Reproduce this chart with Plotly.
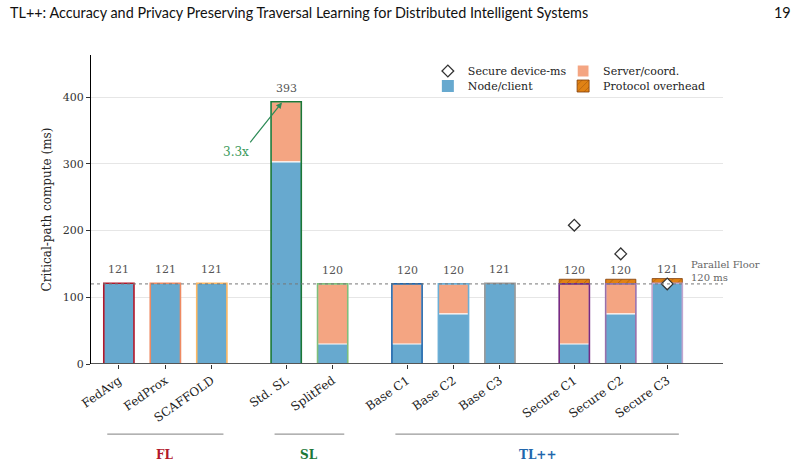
import plotly.graph_objects as go

categories = ["FedAvg", "FedProx", "SCAFFOLD", "Std. SL", "SplitFed",
              "Base C1", "Base C2", "Base C3", "Secure C1", "Secure C2", "Secure C3"]
positions = [0, 1, 2, 3.6, 4.6, 6.2, 7.2, 8.2, 9.8, 10.8, 11.8]
node_ms = [121, 121, 121, 303, 30, 30, 75, 121, 30, 75, 121]
server_ms = [0, 0, 0, 90, 90, 90, 45, 0, 90, 45, 0]
overhead_ms = [0, 0, 0, 0, 0, 0, 0, 0, 7, 7, 7]
total_labels = [121, 121, 121, 393, 120, 120, 120, 121, 120, 120, 121]
secure_idx = [8, 9, 10]
secure_device_ms = [208, 165, 120]
edge_colors = ["#b2182b", "#ef8a62", "#fdb863", "#1b7837", "#7fbf7b",
               "#2166ac", "#6baed6", "#999999", "#762a83", "#9970ab", "#c2a5cf"]
groups = [("FL", [0, 1, 2], "#b2182b"), ("SL", [3, 4], "#1b7837"),
          ("TL++", [5, 6, 7, 8, 9, 10], "#2166ac")]
parallel_floor = 120

FONT = "DejaVu Serif"
W = 0.65
NODE_C = "#67a9cf"
SERVER_C = "#f4a582"
OVER_C = "#e08214"

fig = go.Figure()

base_sum = [n + s for n, s in zip(node_ms, server_ms)]

fig.add_trace(go.Bar(x=positions, y=node_ms, base=[0] * len(node_ms), width=W,
                     marker=dict(color=NODE_C, line=dict(width=0)),
                     name="Node/client", legend="legend2"))
fig.add_trace(go.Bar(x=positions, y=[s if s > 0 else None for s in server_ms], base=node_ms, width=W,
                     marker=dict(color=SERVER_C, line=dict(color="white", width=1.2)),
                     name="Server/coord.", legend="legend3"))
fig.add_trace(go.Bar(x=positions, y=[o if o > 0 else None for o in overhead_ms], base=base_sum, width=W,
                     marker=dict(color=OVER_C, line=dict(color="#7f3b08", width=0.8),
                                 pattern=dict(shape="/", fgcolor="#7f3b08", bgcolor=OVER_C,
                                              size=6, solidity=0.15)),
                     name="Protocol overhead", legend="legend4"))
fig.add_trace(go.Bar(x=positions, y=base_sum, base=[0] * len(base_sum), width=W,
                     marker=dict(color="rgba(0,0,0,0)", line=dict(color=edge_colors, width=1.6)),
                     showlegend=False, hoverinfo="skip"))

# secure device-ms markers
fig.add_trace(go.Scatter(x=[positions[i] for i in secure_idx], y=secure_device_ms, mode="markers",
                         marker=dict(symbol="diamond", size=9, color="white",
                                     line=dict(color="#333333", width=1.3)),
                         cliponaxis=False,
                         name="Secure device-ms", legend="legend"))

# value labels
for p, b, v in zip(positions, base_sum, total_labels):
    fig.add_annotation(x=p, y=b, text=str(v), showarrow=False, yanchor="bottom", yshift=5,
                       font=dict(family=FONT, size=11, color="#555555"))

# parallel floor
fig.add_shape(type="line", xref="paper", x0=0, x1=1, yref="y", y0=parallel_floor, y1=parallel_floor,
              line=dict(color="#777777", width=1, dash="dot"), layer="above")
fig.add_annotation(x=positions[-1] + 0.47, y=parallel_floor, xanchor="left", yanchor="bottom",
                   text="Parallel Floor<br>120 ms", showarrow=False, align="left",
                   font=dict(family=FONT, size=10, color="#666666"), yshift=-1)

# 3.3x annotation
ratio = total_labels[3] / parallel_floor
fig.add_annotation(x=positions[3] - 0.09, y=total_labels[3] - 1, ax=positions[3] - 0.8, ay=330,
                   xref="x", yref="y", axref="x", ayref="y",
                   text="", showarrow=True, arrowhead=2, arrowsize=1, arrowwidth=1.2,
                   arrowcolor="#2e8b57")
fig.add_annotation(x=positions[3] - 1.08, y=319, xanchor="center", yanchor="middle",
                   text=f"{ratio:.1f}x", showarrow=False, yshift=-1, xshift=0,
                   font=dict(family=FONT, size=12, color="#3a9a5a"))

# group brackets
for label, idx, col in groups:
    x0 = positions[idx[0]] - 0.25
    x1 = positions[idx[-1]] + 0.25
    fig.add_shape(type="line", xref="x", yref="paper", x0=x0, x1=x1, y0=-0.227, y1=-0.227,
                  line=dict(color="#999999", width=1.2))
    fig.add_annotation(x=(positions[idx[0]] + positions[idx[-1]]) / 2, y=-0.294, xref="x", yref="paper",
                       text=f"<b>{label}</b>", showarrow=False, yanchor="middle",
                       font=dict(family=FONT, size=12, color=col))

# header
fig.add_annotation(x=-0.131, y=1.136, xref="paper", yref="paper", xanchor="left", yanchor="middle",
                   text="TL++: Accuracy and Privacy Preserving Traversal Learning for Distributed Intelligent Systems",
                   showarrow=False, font=dict(family="Lato", size=14.4, color="#111111"))
fig.add_annotation(x=1.11, y=1.136, xref="paper", yref="paper", xanchor="right", yanchor="middle",
                   text="19", showarrow=False, font=dict(family="Lato", size=14.4, color="#111111"))

leg_common = dict(xanchor="left", yanchor="middle", bgcolor="rgba(0,0,0,0)",
                  font=dict(family=FONT, size=11, color="#222222"), itemwidth=30)
row1 = (364 - 71) / 309
row2 = (364 - 86) / 309
colA = 0.533
colB = 0.747

fig.update_layout(
    width=801, height=467,
    margin=dict(l=91, r=78, t=55, b=103),
    barmode="overlay",
    plot_bgcolor="white", paper_bgcolor="white",
    font=dict(family=FONT, size=11, color="#222222"),
    showlegend=True,
    legend=dict(x=colA, y=row1, **leg_common),
    legend2=dict(x=colA, y=row2, **leg_common),
    legend3=dict(x=colB, y=row1, **leg_common),
    legend4=dict(x=colB, y=row2, **leg_common),
    xaxis=dict(range=[-0.6, 13.0], tickmode="array", tickvals=positions, ticktext=categories,
               tickangle=-35, ticks="outside", ticklen=4, tickcolor="#333333",
               showgrid=False, zeroline=False, showline=False,
               tickfont=dict(family=FONT, size=12, color="#222222")),
    yaxis=dict(range=[0, 463], tickvals=[0, 100, 200, 300, 400], ticks="outside", ticklen=4,
               tickcolor="#333333", showgrid=True, gridcolor="#e6e6e6", gridwidth=1,
               zeroline=False, showline=True, linecolor="black", linewidth=1,
               title=dict(text="Critical-path compute (ms)", font=dict(family=FONT, size=12), standoff=8),
               tickfont=dict(family=FONT, size=11, color="#333333")),
)
# baseline
fig.add_shape(type="line", xref="paper", x0=0, x1=1, yref="y", y0=0, y1=0,
              line=dict(color="#555555", width=2), layer="above")

fig.write_html("out.html")
